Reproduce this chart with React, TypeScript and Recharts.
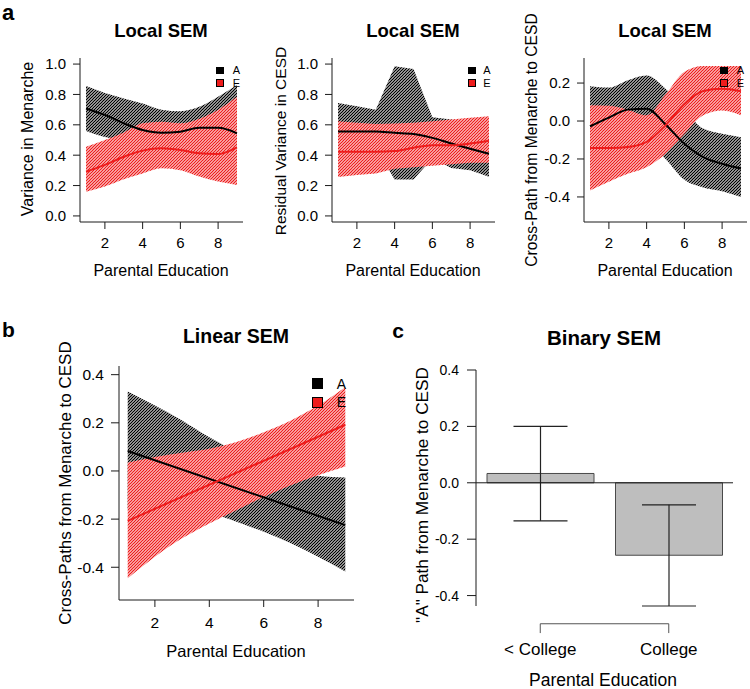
import type { CSSProperties, ReactNode } from 'react';
import {
  ComposedChart,
  Area,
  Line,
  Bar,
  ErrorBar,
  XAxis,
  YAxis,
  ReferenceLine,
} from 'recharts';

// ---------------------------------------------------------------------------
// Local / linear / binary SEM figure (panels a, b, c)
// ---------------------------------------------------------------------------

const FONT = '"Liberation Sans", Arial, Helvetica, sans-serif';
const NARROW = '"Liberation Sans Narrow", "Liberation Sans", Arial, sans-serif';
const AXIS = '#1a1a1a';
const RED = '#ee1c1c';

// x axis shared by the continuous panels
const EDUCATION = [1, 2, 3, 4, 5, 6, 7, 8, 9];
const EDU_TICKS = [2, 4, 6, 8];
const EDU_DOMAIN: [number, number] = [0.68, 9.32];
const LIN_ENDS = [1, 9];

// a (left): variance in menarche
const MEN_A = [0.708, 0.665, 0.61, 0.566, 0.548, 0.555, 0.58, 0.58, 0.544];
const MEN_A_LO = [0.56, 0.52, 0.5, 0.46, 0.43, 0.43, 0.45, 0.42, 0.35];
const MEN_A_HI = [0.855, 0.81, 0.774, 0.741, 0.7, 0.69, 0.719, 0.785, 0.862];
const MEN_E = [0.291, 0.336, 0.39, 0.43, 0.445, 0.434, 0.412, 0.408, 0.452];
const MEN_E_LO = [0.16, 0.193, 0.241, 0.28, 0.314, 0.3, 0.259, 0.226, 0.204];
const MEN_E_HI = [0.456, 0.5, 0.55, 0.61, 0.62, 0.61, 0.64, 0.7, 0.785];

// a (middle): residual variance in CESD
const CES_A = [0.556, 0.556, 0.556, 0.547, 0.54, 0.514, 0.477, 0.442, 0.409];
const CES_A_LO = [0.37, 0.39, 0.45, 0.24, 0.24, 0.38, 0.315, 0.3, 0.258];
const CES_A_HI = [0.744, 0.722, 0.7, 0.985, 0.967, 0.65, 0.635, 0.62, 0.6];
const CES_E = [0.422, 0.422, 0.422, 0.427, 0.449, 0.466, 0.466, 0.477, 0.495];
const CES_E_LO = [0.256, 0.27, 0.28, 0.31, 0.32, 0.33, 0.34, 0.35, 0.35];
const CES_E_HI = [0.624, 0.613, 0.606, 0.608, 0.613, 0.624, 0.635, 0.646, 0.656];

// a (right): cross-path menarche -> CESD
const XP_A = [-0.028, 0.018, 0.06, 0.065, -0.018, -0.12, -0.19, -0.225, -0.25];
const XP_A_LO = [-0.24, -0.14, -0.1, -0.11, -0.2, -0.31, -0.35, -0.37, -0.4];
const XP_A_HI = [0.183, 0.176, 0.215, 0.24, 0.17, 0.06, -0.04, -0.067, -0.085];
const XP_E = [-0.142, -0.142, -0.137, -0.11, -0.023, 0.09, 0.158, 0.17, 0.157];
const XP_E_LO = [-0.366, -0.32, -0.278, -0.243, -0.172, -0.067, 0.03, 0.056, 0.03];
const XP_E_HI = [0.083, 0.08, 0.06, 0.03, 0.14, 0.26, 0.29, 0.29, 0.29];

// b: linear SEM
const LIN_A = [0.083, -0.225];
const LIN_A_LO = [-0.16, -0.15, -0.16, -0.175, -0.211, -0.253, -0.3, -0.356, -0.418];
const LIN_A_HI = [0.33, 0.272, 0.21, 0.14, 0.08, 0.035, 0.0, -0.02, -0.027];
const LIN_E = [-0.207, 0.192];
const LIN_E_LO = [-0.446, -0.356, -0.28, -0.218, -0.163, -0.108, -0.059, -0.018, 0.019];
const LIN_E_HI = [0.035, 0.058, 0.076, 0.092, 0.12, 0.161, 0.21, 0.272, 0.348];

// c: binary SEM
const GROUPS = ['< College', 'College'];
const BIN_A = [0.033, -0.257];
const BIN_A_LO = [-0.135, -0.437];
const BIN_A_HI = [0.2, -0.078];
const BIN_TICKS = [-0.4, -0.2, 0, 0.2, 0.4];
const BRACKET_Y = -0.5;
const BRACKET_TICK_Y = -0.533;

const LEGEND = [
  { name: 'A', color: '#000' },
  { name: 'E', color: RED },
];

type Curve = 'monotone' | 'linear';

interface BandSeries {
  key: string;
  color: string;
  meanX: number[];
  mean: number[];
  lo: number[];
  hi: number[];
}

const toBand = (lo: number[], hi: number[]) =>
  EDUCATION.map((x, i) => ({ x, range: [lo[i], hi[i]] }));

const toCurve = (xs: number[], ys: number[]) => xs.map((x, i) => ({ x, y: ys[i] }));

const fmt = (v: number) => v.toFixed(1);

function Hatch({ id, color }: { id: string; color: string }) {
  return (
    <pattern id={id} patternUnits="userSpaceOnUse" width={3} height={3}>
      <rect width={3} height={3} fill="#fff" />
      <path d="M-1,1 L1,-1 M0,3 L3,0 M2,4 L4,2" stroke={color} strokeWidth={1.25} />
    </pattern>
  );
}

interface BandPanelProps {
  id: string;
  left: number;
  top: number;
  width: number;
  height: number;
  margin: { top: number; right: number; bottom: number; left: number };
  yDomain: [number, number];
  yTicks: number[];
  series: BandSeries[];
  curve: Curve;
  lineCurve?: Curve;
  yFont: number;
  xFont: number;
  yTickSize: number;
  yTickMargin: number;
  xTickMargin: number;
}

function BandPanel(p: BandPanelProps) {
  return (
    <div style={{ position: 'absolute', left: p.left, top: p.top }}>
      <ComposedChart width={p.width} height={p.height} margin={p.margin}>
        <defs>
          {p.series.map((s) => (
            <Hatch key={s.key} id={`${p.id}-${s.key}`} color={s.color} />
          ))}
        </defs>
        <XAxis
          type="number"
          dataKey="x"
          domain={EDU_DOMAIN}
          ticks={EDU_TICKS}
          allowDataOverflow
          height={40}
          axisLine={{ stroke: AXIS }}
          tickLine={{ stroke: AXIS }}
          tickSize={7}
          tickMargin={p.xTickMargin}
          tick={{ fill: '#000', fontSize: p.xFont }}
        />
        <YAxis
          type="number"
          domain={p.yDomain}
          ticks={p.yTicks}
          width={60}
          tickFormatter={fmt}
          axisLine={{ stroke: AXIS }}
          tickLine={{ stroke: AXIS }}
          tickSize={p.yTickSize}
          tickMargin={p.yTickMargin}
          tick={{ fill: '#000', fontSize: p.yFont }}
        />
        {p.series.map((s) => (
          <Area
            key={`band-${s.key}`}
            data={toBand(s.lo, s.hi)}
            dataKey="range"
            type={p.curve}
            stroke="none"
            fill={`url(#${p.id}-${s.key})`}
            fillOpacity={1}
            dot={false}
            activeDot={false}
            isAnimationActive={false}
          />
        ))}
        {p.series.map((s) => (
          <Line
            key={`mean-${s.key}`}
            data={toCurve(s.meanX, s.mean)}
            dataKey="y"
            type={p.lineCurve ?? p.curve}
            stroke={s.color}
            strokeWidth={2}
            dot={false}
            activeDot={false}
            isAnimationActive={false}
          />
        ))}
      </ComposedChart>
    </div>
  );
}

function Caption({
  x,
  y,
  size,
  bold,
  rotate,
  font,
  lh = 1.15,
  children,
}: {
  x: number;
  y: number;
  size: number;
  bold?: boolean;
  rotate?: boolean;
  font?: string;
  lh?: number;
  children: ReactNode;
}) {
  const style: CSSProperties = {
    position: 'absolute',
    left: x,
    top: y,
    transform: `translate(-50%, -50%)${rotate ? ' rotate(-90deg)' : ''}`,
    fontFamily: font ?? FONT,
    fontSize: size,
    fontWeight: bold ? 700 : 400,
    lineHeight: lh,
    whiteSpace: 'nowrap',
    color: '#000',
  };
  return <div style={style}>{children}</div>;
}

function LegendBox({
  x,
  y,
  box,
  step,
  textGap,
  size,
}: {
  x: number;
  y: number;
  box: number;
  step: number;
  textGap: number;
  size: number;
}) {
  return (
    <div style={{ position: 'absolute', left: x, top: y }}>
      {LEGEND.map((item, i) => (
        <div key={item.name} style={{ position: 'absolute', left: 0, top: i * step }}>
          <div
            style={{
              position: 'absolute',
              left: 0,
              top: 0,
              width: box,
              height: box,
              boxSizing: 'border-box',
              background: item.color,
              border: '1px solid #000',
            }}
          />
          <div
            style={{
              position: 'absolute',
              left: textGap,
              top: box / 2,
              transform: 'translateY(-50%)',
              fontFamily: FONT,
              fontSize: size,
              lineHeight: 1,
              color: '#000',
            }}
          >
            {item.name}
          </div>
        </div>
      ))}
    </div>
  );
}

const binData = GROUPS.map((group, i) => ({
  group,
  value: BIN_A[i],
  err: [BIN_A[i] - BIN_A_LO[i], BIN_A_HI[i] - BIN_A[i]],
}));

const BIN_MIN = Math.min(...BIN_A_LO);

function BinaryPanel() {
  return (
    <div style={{ position: 'absolute', left: 380, top: 290 }}>
      <ComposedChart
        width={370}
        height={399}
        data={binData}
        margin={{ top: 80, right: 17, bottom: 0, left: 36 }}
      >
        <XAxis
          dataKey="group"
          type="category"
          axisLine={false}
          tickLine={false}
          tickSize={0}
          tickMargin={37}
          height={83}
          tick={{ fill: '#000', fontSize: 17 }}
        />
        <YAxis
          type="number"
          domain={[BIN_MIN, 0.4]}
          ticks={BIN_TICKS}
          width={60}
          tickFormatter={fmt}
          axisLine={{ stroke: AXIS }}
          tickLine={{ stroke: AXIS }}
          tickSize={9}
          tickMargin={8}
          tick={{ fill: '#000', fontSize: 14 }}
        />
        <Bar
          dataKey="value"
          fill="#bebebe"
          stroke="#4a4a4a"
          strokeWidth={1}
          barSize={107}
          isAnimationActive={false}
        >
          <ErrorBar dataKey="err" direction="y" width={27} stroke="#222" strokeWidth={1.2} />
        </Bar>
        <ReferenceLine y={0} stroke={AXIS} strokeWidth={1} />
        <ReferenceLine
          segment={[
            { x: GROUPS[0], y: BRACKET_Y },
            { x: GROUPS[1], y: BRACKET_Y },
          ]}
          stroke="#555"
          ifOverflow="visible"
        />
        {GROUPS.map((g) => (
          <ReferenceLine
            key={g}
            segment={[
              { x: g, y: BRACKET_Y },
              { x: g, y: BRACKET_TICK_Y },
            ]}
            stroke="#555"
            ifOverflow="visible"
          />
        ))}
      </ComposedChart>
    </div>
  );
}

const A_TICKS = [0, 0.2, 0.4, 0.6, 0.8, 1.0];
const XP_TICKS = [-0.4, -0.2, 0, 0.2];
const LIN_TICKS = [-0.4, -0.2, 0, 0.2, 0.4];

export default function App() {
  return (
    <div
      style={{
        position: 'absolute',
        left: 0,
        top: 0,
        width: 750,
        height: 689,
        background: '#fff',
        fontFamily: FONT,
        overflow: 'hidden',
      }}
    >
      <BandPanel
        id="men"
        left={0}
        top={0}
        width={250}
        height={290}
        margin={{ top: 58, right: 7, bottom: 28, left: 20 }}
        yDomain={[-0.04, 1.04]}
        yTicks={A_TICKS}
        curve="monotone"
        yFont={15}
        xFont={15}
        yTickSize={7}
        yTickMargin={7}
        xTickMargin={8}
        series={[
          { key: 'A', color: '#000', meanX: EDUCATION, mean: MEN_A, lo: MEN_A_LO, hi: MEN_A_HI },
          { key: 'E', color: RED, meanX: EDUCATION, mean: MEN_E, lo: MEN_E_LO, hi: MEN_E_HI },
        ]}
      />
      <BandPanel
        id="ces"
        left={250}
        top={0}
        width={250}
        height={290}
        margin={{ top: 58, right: 5, bottom: 28, left: 22 }}
        yDomain={[-0.04, 1.04]}
        yTicks={A_TICKS}
        curve="linear"
        lineCurve="monotone"
        yFont={15}
        xFont={15}
        yTickSize={7}
        yTickMargin={7}
        xTickMargin={8}
        series={[
          { key: 'A', color: '#000', meanX: EDUCATION, mean: CES_A, lo: CES_A_LO, hi: CES_A_HI },
          { key: 'E', color: RED, meanX: EDUCATION, mean: CES_E, lo: CES_E_LO, hi: CES_E_HI },
        ]}
      />
      <BandPanel
        id="xp"
        left={500}
        top={0}
        width={250}
        height={290}
        margin={{ top: 58, right: 3, bottom: 28, left: 24 }}
        yDomain={[-0.532, 0.332]}
        yTicks={XP_TICKS}
        curve="monotone"
        yFont={15}
        xFont={15}
        yTickSize={7}
        yTickMargin={7}
        xTickMargin={8}
        series={[
          { key: 'A', color: '#000', meanX: EDUCATION, mean: XP_A, lo: XP_A_LO, hi: XP_A_HI },
          { key: 'E', color: RED, meanX: EDUCATION, mean: XP_E, lo: XP_E_LO, hi: XP_E_HI },
        ]}
      />
      <BandPanel
        id="lin"
        left={0}
        top={290}
        width={380}
        height={399}
        margin={{ top: 76, right: 26, bottom: 49, left: 59 }}
        yDomain={[-0.536, 0.436]}
        yTicks={LIN_TICKS}
        curve="monotone"
        lineCurve="linear"
        yFont={15.5}
        xFont={15.5}
        yTickSize={8}
        yTickMargin={7}
        xTickMargin={10}
        series={[
          { key: 'A', color: '#000', meanX: LIN_ENDS, mean: LIN_A, lo: LIN_A_LO, hi: LIN_A_HI },
          { key: 'E', color: RED, meanX: LIN_ENDS, mean: LIN_E, lo: LIN_E_LO, hi: LIN_E_HI },
        ]}
      />
      <BinaryPanel />

      {/* panel letters */}
      <Caption x={8} y={12.5} size={22} bold font={NARROW} lh={1}>a</Caption>
      <Caption x={8.5} y={330} size={21} bold font={NARROW}>b</Caption>
      <Caption x={398} y={331} size={21} bold font={NARROW}>c</Caption>

      {/* titles */}
      <Caption x={161} y={31} size={18.5} bold>Local SEM</Caption>
      <Caption x={413} y={31} size={18.5} bold>Local SEM</Caption>
      <Caption x={665} y={31} size={18.5} bold>Local SEM</Caption>
      <Caption x={236} y={336} size={19.5} bold>Linear SEM</Caption>
      <Caption x={604} y={338} size={20.5} bold>Binary SEM</Caption>

      {/* x axis titles */}
      <Caption x={161} y={271} size={16}>Parental Education</Caption>
      <Caption x={413} y={271} size={16}>Parental Education</Caption>
      <Caption x={665} y={271} size={16}>Parental Education</Caption>
      <Caption x={236} y={651} size={16.5}>Parental Education</Caption>
      <Caption x={603} y={680} size={17.5}>Parental Education</Caption>

      {/* y axis titles */}
      <Caption x={28} y={139} size={16} rotate>Variance in Menarche</Caption>
      <Caption x={281} y={141} size={15.5} rotate>Residual Variance in CESD</Caption>
      <Caption x={532} y={140} size={15.7} rotate>Cross-Path from Menarche to CESD</Caption>
      <Caption x={65.5} y={483} size={17} rotate>Cross-Paths from Menarche to CESD</Caption>
      <Caption x={423} y={495} size={17.2} rotate>"A" Path from Menarche to CESD</Caption>

      {/* legends */}
      <LegendBox x={216} y={66.7} box={7.5} step={12.5} textGap={16.7} size={11} />
      <LegendBox x={468.3} y={66.7} box={7.5} step={12.5} textGap={15} size={11} />
      <LegendBox x={720} y={66.7} box={7.5} step={12.5} textGap={16.7} size={11} />
      <LegendBox x={312.3} y={378.3} box={11} step={18.4} textGap={24.4} size={14} />
    </div>
  );
}
